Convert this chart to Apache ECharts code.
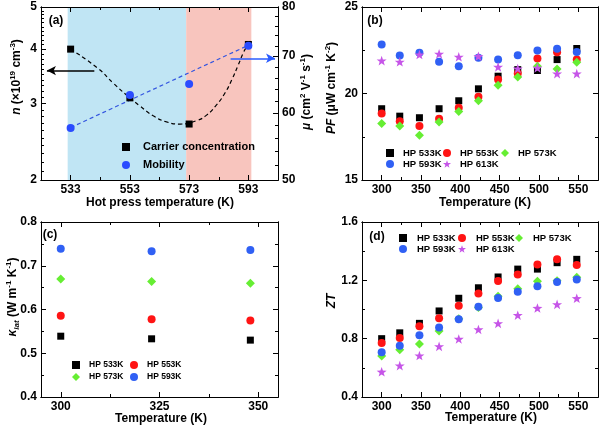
<!DOCTYPE html>
<html><head><meta charset="utf-8">
<script src="https://cdn.jsdelivr.net/npm/echarts@6/dist/echarts.min.js"></script>
<style>html,body{margin:0;padding:0;background:#fff}#c{width:602px;height:428px}</style>
</head><body><div id="c"></div>
<script>
// ---------- Panel (a) ----------
const hpTemps = [533, 553, 573, 593];
const carrierConc = [4.0, 3.09, 2.69, 4.1];
const mobility = [57.6, 63.0, 64.9, 72.0];
const carrierFitT = [533, 542.3, 547.4, 552.5, 556.4, 560.9, 565.4, 569.9, 575.6, 578.9, 582.3, 585.1, 587.4, 589.6, 591.5, 593];
const carrierFitN = [4.0, 3.61, 3.34, 3.11, 2.96, 2.81, 2.72, 2.69, 2.74, 2.82, 2.98, 3.17, 3.40, 3.68, 3.95, 4.1];
const mobilityFitT = [533, 593];
const mobilityFitMu = [57.65, 72.1];
const bandBlue = [532, 572];
const bandPink = [572, 594];
const arrowN = [[541, 3.57], [525, 3.57]];
const arrowMu = [[587, 69.6], [602, 69.6]];
const ticksAX = [533, 553, 573, 593];
const ticksAN = [2, 3, 4, 5];
const ticksAMu = [50, 60, 70, 80];

// ---------- Panels (b) and (d) ----------
const tempB = [300, 323, 348, 373, 398, 423, 448, 473, 498, 523, 548];
const pf533 = [19.12, 18.69, 18.60, 19.12, 19.58, 20.27, 21.00, 21.38, 21.33, 21.96, 22.60];
const pf553 = [18.85, 18.40, 18.12, 18.54, 19.17, 19.81, 20.81, 21.15, 22.02, 22.38, 21.96];
const pf573 = [18.27, 18.12, 17.58, 18.35, 18.96, 19.58, 20.48, 20.96, 21.58, 21.42, 21.81];
const pf593 = [22.83, 22.19, 22.35, 21.83, 21.58, 22.06, 21.96, 22.21, 22.48, 22.58, 22.40];
const pf613 = [21.90, 21.83, 22.25, 22.29, 22.12, 22.15, 21.54, 21.44, 21.48, 21.15, 21.15];
const ticksBX = [300, 350, 400, 450, 500, 550];
const ticksBY = [15, 20, 25];

// ---------- Panel (c) ----------
const tempC = [300, 323, 348];
const klat533 = [0.539, 0.533, 0.530];
const klat553 = [0.586, 0.578, 0.575];
const klat573 = [0.670, 0.664, 0.660];
const klat593 = [0.739, 0.733, 0.736];
const ticksCX = [300, 325, 350];
const ticksCY = [0.4, 0.5, 0.6, 0.7, 0.8];

// ---------- Panel (d) ----------
const zt533 = [0.80, 0.84, 0.905, 0.99, 1.077, 1.149, 1.223, 1.277, 1.277, 1.321, 1.344];
const zt553 = [0.77, 0.805, 0.886, 0.94, 1.026, 1.109, 1.195, 1.24, 1.309, 1.344, 1.305];
const zt573 = [0.682, 0.724, 0.763, 0.852, 0.937, 1.014, 1.091, 1.142, 1.193, 1.198, 1.221];
const zt593 = [0.707, 0.752, 0.824, 0.877, 0.933, 1.019, 1.079, 1.121, 1.16, 1.188, 1.205];
const zt613 = [0.573, 0.615, 0.684, 0.747, 0.798, 0.863, 0.905, 0.961, 1.01, 1.035, 1.077];
const ticksDY = [0.4, 0.8, 1.2, 1.6];

// ---------- styling ----------
const FONT = '"Liberation Sans", Arial, Helvetica, sans-serif';
const COL = {k533: '#000000', k553: '#ff1414', k573: '#66ee33', k593: '#3060f4', k613: '#c655e8', mob: '#2a4cff'};
const STAR = 'path://M50,2 L61.8,36.2 L97.6,36.9 L69,58.6 L79.4,92.9 L50,72.4 L20.6,92.9 L31,58.6 L2.4,36.9 L38.2,36.2 Z';

function range(a, b, s) { const r = []; for (let v = a; v <= b + 1e-9; v += s) r.push(Math.round(v * 1000) / 1000); return r; }
function minorsBetween(majors, step) {
  const out = [];
  for (let i = 0; i < majors.length - 1; i++) {
    range(majors[i] + step, majors[i + 1] - step, step).forEach(v => out.push(v));
  }
  return out;
}

const labelStyle = {show: true, fontSize: 12, fontWeight: 'bold', fontFamily: FONT, color: '#000', margin: 4};
function mkAxis(grid, type, min, max, position, ticks, len, labels) {
  const a = {
    type: type, gridIndex: grid, min: min, max: max, position: position, z: 10,
    axisLine: {show: true, onZero: false, lineStyle: {color: '#000', width: 1}},
    axisTick: {show: true, inside: true, length: len, customValues: ticks, lineStyle: {color: '#000', width: 1}},
    axisLabel: labels ? Object.assign({}, labelStyle, {customValues: labels}) : {show: false},
    splitLine: {show: false}, minorTick: {show: false}, axisPointer: {show: false}
  };
  if (type === 'log') a.logBase = 10;
  return a;
}
function axisGroup(list, grid, type, min, max, posMain, posMirror, majors, minors) {
  const main = list.length;
  list.push(mkAxis(grid, type, min, max, posMain, majors, 5, majors));
  list.push(mkAxis(grid, type, min, max, posMain, minors, 3, null));
  if (posMirror) {
    list.push(mkAxis(grid, type, min, max, posMirror, majors, 5, null));
    list.push(mkAxis(grid, type, min, max, posMirror, minors, 3, null));
  }
  return main;
}

const grids = [
  {left: 41, top: 7, width: 237, height: 173},
  {left: 362, top: 7, width: 236, height: 173},
  {left: 41, top: 222, width: 237, height: 175},
  {left: 362, top: 222, width: 236, height: 175}
];
const xAxes = [], yAxes = [];
const xA = axisGroup(xAxes, 0, 'value', 523, 603, 'bottom', 'top', ticksAX, [543, 563, 583]);
const yAL = axisGroup(yAxes, 0, 'log', 2, 5, 'left', null, ticksAN, minorsBetween(ticksAN, 0.1));
const yAR = axisGroup(yAxes, 0, 'log', 50, 80, 'right', null, ticksAMu, minorsBetween(ticksAMu, 2));
const xB = axisGroup(xAxes, 1, 'value', 275, 575, 'bottom', 'top', ticksBX, [325, 375, 425, 475, 525]);
const yB = axisGroup(yAxes, 1, 'value', 15, 25, 'left', 'right', ticksBY, [17.5, 22.5]);
const xC = axisGroup(xAxes, 2, 'value', 295, 355, 'bottom', 'top', ticksCX, [312.5, 337.5]);
const yC = axisGroup(yAxes, 2, 'value', 0.4, 0.8, 'left', 'right', ticksCY, [0.45, 0.55, 0.65, 0.75]);
const xD = axisGroup(xAxes, 3, 'value', 275, 575, 'bottom', 'top', ticksBX, [325, 375, 425, 475, 525]);
const yD = axisGroup(yAxes, 3, 'value', 0.4, 1.6, 'left', 'right', ticksDY, [0.6, 1.0, 1.4]);

function pts(xs, ys) { return xs.map((x, i) => [x, ys[i]]); }
function sc(name, xi, yi, xs, ys, symbol, size, color) {
  return {type: 'scatter', name: name, xAxisIndex: xi, yAxisIndex: yi, data: pts(xs, ys),
    symbol: symbol, symbolSize: size, symbolKeepAspect: true, itemStyle: {color: color, opacity: 1},
    z: 5, silent: true, emphasis: {disabled: true}};
}
const SYM = {
  'HP 533K': ['rect', 7, COL.k533], 'HP 553K': ['circle', 8, COL.k553], 'HP 573K': ['diamond', 9, COL.k573],
  'HP 593K': ['circle', 8, COL.k593], 'HP 613K': [STAR, 10, COL.k613]
};
function hp(name, xi, yi, xs, ys) { const s = SYM[name]; return sc(name, xi, yi, xs, ys, s[0], s[1], s[2]); }

const series = [
  {type: 'line', name: 'nFit', xAxisIndex: xA, yAxisIndex: yAL, data: pts(carrierFitT, carrierFitN),
    smooth: 0.5, showSymbol: false, silent: true, z: 3,
    lineStyle: {color: '#000', width: 1.2, type: [4, 3]},
    markArea: {silent: true, z: 1, data: [
      [{xAxis: bandBlue[0], itemStyle: {color: '#c0e5f4'}}, {xAxis: bandBlue[1]}],
      [{xAxis: bandPink[0], itemStyle: {color: '#f8c5be'}}, {xAxis: bandPink[1]}]
    ]},
    markLine: {silent: true, symbol: ['none', 'arrow'], symbolSize: [7, 9], label: {show: false},
      lineStyle: {type: 'solid', color: '#000', width: 1.5},
      data: [[{coord: arrowN[0]}, {coord: arrowN[1]}]]}
  },
  {type: 'line', name: 'muFit', xAxisIndex: xA, yAxisIndex: yAR, data: pts(mobilityFitT, mobilityFitMu),
    showSymbol: false, silent: true, z: 3,
    lineStyle: {color: '#3355e0', width: 1.2, type: [4, 3]},
    markLine: {silent: true, symbol: ['none', 'arrow'], symbolSize: [7, 9], label: {show: false},
      lineStyle: {type: 'solid', color: '#2a5cff', width: 1.5},
      data: [[{coord: arrowMu[0]}, {coord: arrowMu[1]}]]}
  },
  sc('Carrier concentration', xA, yAL, hpTemps, carrierConc, 'rect', 7, '#000'),
  sc('Mobility', xA, yAR, hpTemps, mobility, 'circle', 8, COL.mob),

  hp('HP 533K', xB, yB, tempB, pf533),
  hp('HP 553K', xB, yB, tempB, pf553),
  hp('HP 573K', xB, yB, tempB, pf573),
  hp('HP 593K', xB, yB, tempB, pf593),
  hp('HP 613K', xB, yB, tempB, pf613),

  hp('HP 533K', xC, yC, tempC, klat533),
  hp('HP 553K', xC, yC, tempC, klat553),
  hp('HP 573K', xC, yC, tempC, klat573),
  hp('HP 593K', xC, yC, tempC, klat593),

  hp('HP 533K', xD, yD, tempB, zt533),
  hp('HP 553K', xD, yD, tempB, zt553),
  hp('HP 573K', xD, yD, tempB, zt573),
  hp('HP 593K', xD, yD, tempB, zt593),
  hp('HP 613K', xD, yD, tempB, zt613)
];

function leg(name, cx, cy, fs, pad) {
  return {data: [name], left: cx - 4, top: cy - 7, itemWidth: 8, itemHeight: 8, itemGap: 0, padding: 0,
    selectedMode: false, orient: 'horizontal',
    textStyle: {fontSize: fs, fontWeight: 'bold', fontFamily: FONT, color: '#000', lineHeight: 14, padding: [0, 0, 0, pad]}};
}
const legends = [
  leg('Carrier concentration', 126, 147, 11, 8),
  leg('Mobility', 126, 165, 11, 8),
  leg('HP 533K', 390, 153, 9.5, 4), leg('HP 553K', 447, 153, 9.5, 4), leg('HP 573K', 505, 153, 9.5, 4),
  leg('HP 593K', 390, 164, 9.5, 4), leg('HP 613K', 447, 164, 9.5, 4),
  leg('HP 533K', 76, 365, 8.5, 4), leg('HP 553K', 134, 365, 8.5, 4),
  leg('HP 573K', 76, 377, 8.5, 4), leg('HP 593K', 134, 377, 8.5, 4),
  leg('HP 533K', 403, 238, 9.5, 5), leg('HP 553K', 462, 238, 9.5, 5), leg('HP 573K', 519, 238, 9.5, 5),
  leg('HP 593K', 403, 249, 9.5, 5), leg('HP 613K', 462, 249, 9.5, 5)
];

const base = {fontSize: 12, fontWeight: 'bold', fontFamily: FONT, lineHeight: 16, fill: '#000'};
const RICH = {
  b: base,
  i: Object.assign({}, base, {fontStyle: 'italic'}),
  sup: {fontSize: 8, fontWeight: 'bold', fontFamily: FONT, lineHeight: 10, verticalAlign: 'top', fill: '#000'},
  sub: {fontSize: 8, fontWeight: 'bold', fontStyle: 'italic', fontFamily: FONT, lineHeight: 10, verticalAlign: 'bottom', fill: '#000'}
};
function gtext(x, y, text, rot) {
  return {type: 'text', x: x, y: y, rotation: rot || 0, silent: true, z: 30,
    style: {text: text, rich: RICH, fill: '#000', fontSize: 12, fontWeight: 'bold', fontFamily: FONT, align: 'center', verticalAlign: 'middle'}};
}
const R90 = Math.PI / 2;
const graphics = [
  gtext(17, 77, '{i|n}{b| (×10}{sup|19}{b| cm}{sup|-3}{b|)}', R90),
  gtext(307, 92, '{i|μ}{b| (cm}{sup|2}{b| V}{sup|-1}{b| s}{sup|-1}{b|)}', R90),
  gtext(332, 88, '{i|PF}{b| (μW cm}{sup|-1}{b| K}{sup|-2}{b|)}', R90),
  gtext(13, 297, '{i|κ}{sub|lat}{b| (W m}{sup|-1}{b| K}{sup|-1}{b|)}', R90),
  gtext(332, 301, '{i|ZT}', R90),
  gtext(160, 203, '{b|Hot press temperature (K)}'),
  gtext(485, 203, '{b|Temperature (K)}'),
  gtext(161, 419, '{b|Temperature (K)}'),
  gtext(491, 418, '{b|Temperature (K)}'),
  gtext(56, 21, '{b|(a)}'),
  gtext(375, 21, '{b|(b)}'),
  gtext(50, 235, '{b|(c)}'),
  gtext(377, 237, '{b|(d)}')
];

const chart = echarts.init(document.getElementById('c'), null, {renderer: 'canvas'});
chart.setOption({
  animation: false,
  backgroundColor: '#fff',
  grid: grids,
  xAxis: xAxes,
  yAxis: yAxes,
  legend: legends,
  series: series,
  graphic: graphics
});
</script>
</body></html>
